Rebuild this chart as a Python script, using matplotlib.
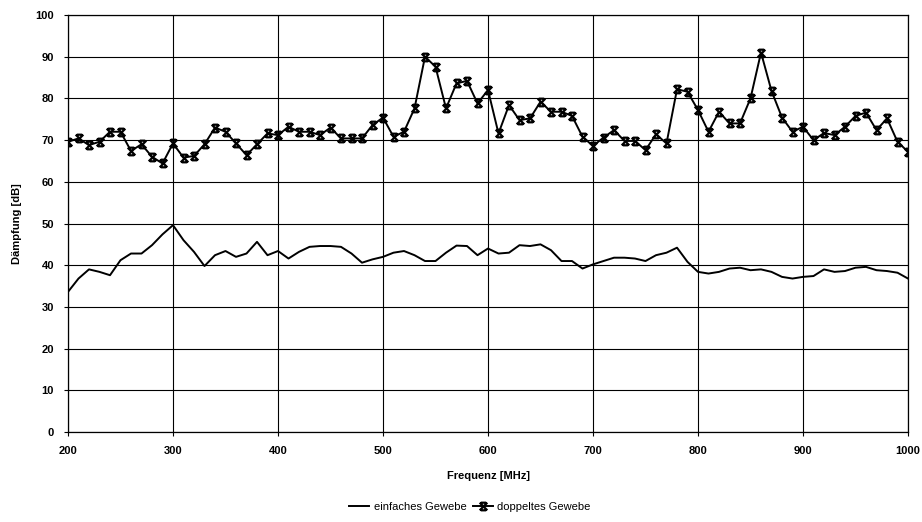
import numpy as np
import matplotlib
matplotlib.use("Agg")
import matplotlib.pyplot as plt
from matplotlib.path import Path

plt.rcParams['font.family'] = ['Liberation Sans', 'DejaVu Sans']

freq = list(range(200, 1001, 10))

einfach = [33.6, 36.8, 39.0, 38.4, 37.6, 41.2, 42.8, 42.8, 44.8, 47.4,
           49.6, 46.0, 43.2, 39.8, 42.4, 43.4, 42.0, 42.8, 45.6, 42.4,
           43.4, 41.6, 43.2, 44.4, 44.6, 44.6, 44.4, 42.8, 40.6, 41.4,
           42.0, 43.0, 43.4, 42.4, 41.0, 41.0, 43.0, 44.7, 44.6, 42.4,
           44.0, 42.8, 43.0, 44.8, 44.6, 45.0, 43.6, 41.0, 41.0, 39.2,
           40.2, 41.0, 41.8, 41.8, 41.6, 41.0, 42.4, 43.0, 44.2, 40.8,
           38.4, 38.0, 38.4, 39.2, 39.4, 38.8, 39.0, 38.4, 37.2, 36.8,
           37.2, 37.4, 39.0, 38.4, 38.6, 39.4, 39.6, 38.8, 38.6, 38.2,
           36.8]

doppelt = [69.6, 70.4, 68.8, 69.6, 72.0, 72.0, 67.4, 69.0, 66.0, 64.4,
           69.2, 65.8, 66.2, 69.0, 73.0, 72.0, 69.2, 66.4, 69.0, 71.6,
           71.2, 73.2, 72.0, 72.0, 71.2, 73.0, 70.4, 70.4, 70.4, 73.6,
           75.4, 70.8, 72.0, 77.6, 90.0, 87.6, 77.6, 83.6, 84.2, 78.8,
           82.0, 71.6, 78.4, 74.8, 75.2, 79.2, 76.8, 76.8, 75.8, 70.8,
           68.6, 70.6, 72.4, 69.8, 69.8, 67.6, 71.4, 69.2, 82.2, 81.6,
           77.2, 72.0, 76.8, 74.0, 74.0, 80.0, 91.0, 81.8, 75.4, 72.0,
           73.2, 70.0, 71.7, 71.2, 73.2, 75.8, 76.6, 72.4, 75.2, 69.6,
           67.2]

# hourglass-like X marker
xmark = Path([(-1, -1), (1, 1), (-1, 1), (1, -1),
              (-0.7, 1), (0.7, 1), (-0.7, -1), (0.7, -1)],
             [Path.MOVETO, Path.LINETO, Path.MOVETO, Path.LINETO,
              Path.MOVETO, Path.LINETO, Path.MOVETO, Path.LINETO])

fig = plt.figure(figsize=(9.22, 5.22), dpi=100)
ax = fig.add_axes([68/922, 1 - 432/522, (908-68)/922, (432-15)/522])

ax.plot(freq, einfach, color='black', lw=1.4, label='einfaches Gewebe')
ax.plot(freq, doppelt, color='black', lw=1.4, marker=xmark, ms=5.5,
        mew=1.6, label='doppeltes Gewebe')

ax.set_xlim(200, 1000)
ax.set_ylim(0, 100)
ax.set_xticks(range(200, 1001, 100))
ax.set_yticks(range(0, 101, 10))
ax.grid(True, color='black', lw=0.8)
ax.set_axisbelow(True)
for s in ax.spines.values():
    s.set_color('black')
    s.set_linewidth(0.9)

ax.tick_params(direction='out', length=3, width=0.8, labelsize=8, pad=7)
for lab in ax.get_xticklabels() + ax.get_yticklabels():
    lab.set_fontweight('bold')

ax.set_xlabel('Frequenz [MHz]', fontsize=8, fontweight='bold', labelpad=11)
ax.set_ylabel('Dämpfung [dB]', fontsize=8, fontweight='bold', labelpad=10)

fig.legend(loc='center', bbox_to_anchor=(470/922, 1 - 507/522), ncol=2,
           frameon=False, fontsize=8, handlelength=1.8, columnspacing=0.6,
           handletextpad=0.4)

plt.savefig('out.png', dpi=100)
